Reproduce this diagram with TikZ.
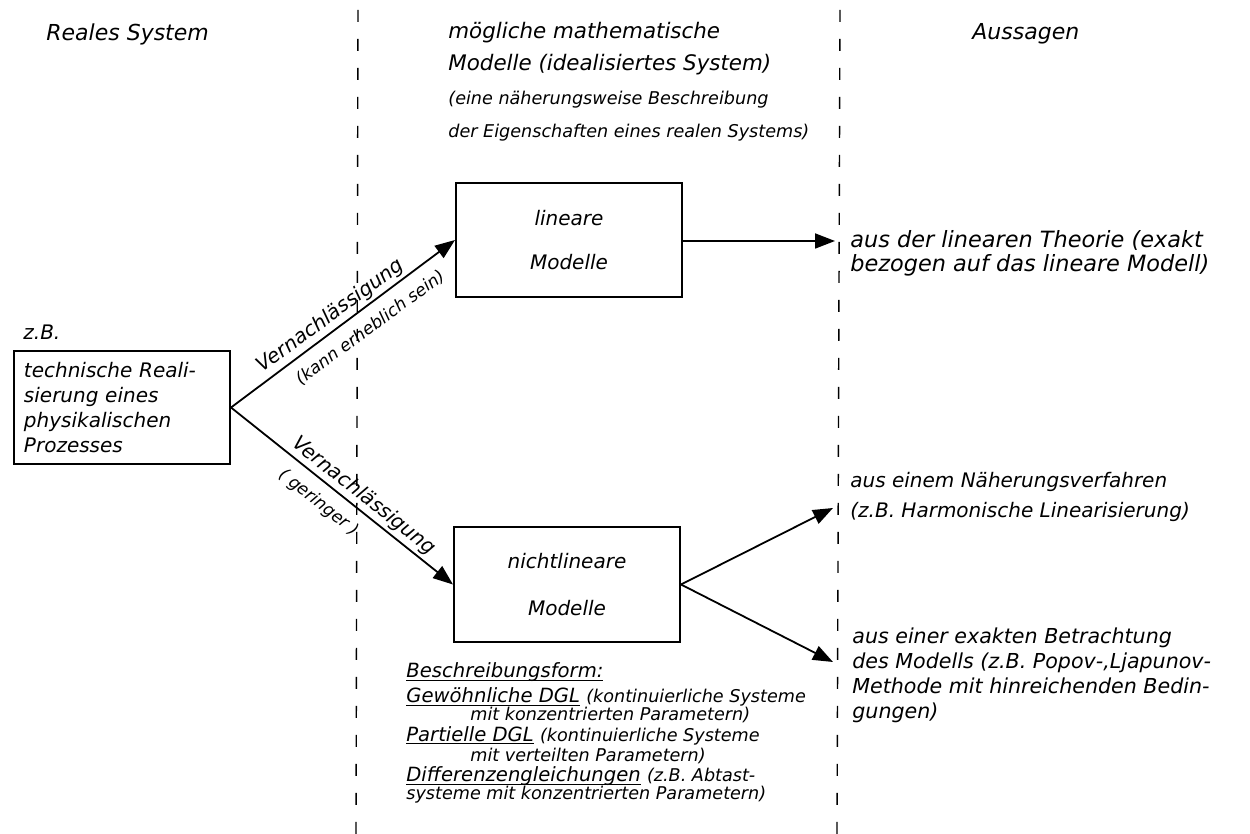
\documentclass[tikz,border=0pt]{standalone}
\usepackage{fontspec}
\setmainfont{DejaVu Sans}
\usetikzlibrary{arrows.meta}

\newcommand{\smallf}{\fontsize{8.8}{10}\selectfont}
\newcommand{\ulword}[1]{\setbox0\hbox{#1}\rlap{\rule[-1.6pt]{\wd0}{0.5pt}}\copy0\relax}

\begin{document}
\begin{tikzpicture}[x=0.5pt,y=0.5pt,yscale=-1,xscale=1,
  box/.style={draw, line width=1pt, rectangle, inner sep=0pt},
  arr/.style={line width=0.9pt, -{Triangle[length=10pt,width=7.5pt]}},
  divider/.style={line width=0.7pt, dash pattern=on 6pt off 8.5pt},
  head/.style={font=\fontsize{11}{13}\selectfont\itshape, inner sep=0pt, anchor=west},
  txt/.style={font=\fontsize{10}{12.5}\selectfont\itshape, inner sep=0pt, align=left, anchor=west},
  smalltxt/.style={font=\smallf\itshape, inner sep=0pt, anchor=west},
  formline/.style={font=\fontsize{9.8}{11}\selectfont\itshape, inner sep=0pt, anchor=base west},
  lbl/.style={font=\fontsize{10}{12}\selectfont\itshape, inner sep=1.5pt},
  lblsmall/.style={font=\fontsize{8.5}{10}\selectfont\itshape, inner sep=5.5pt}]
\useasboundingbox (0,0) rectangle (1250,834);

%Straight Lines (column borders)
\coordinate (divAtop) at (358,10);
\coordinate (divAbot) at (356,834);
\coordinate (divBtop) at (840,10);
\coordinate (divBbot) at (837,834);
\draw[divider] (divAtop) -- (divAbot);
\draw[divider] (divBtop) -- (divBbot);

% Text Node
\node[head] (hreal) at (46,34) {Reales System};
% Text Node
\node[head, font=\fontsize{10.7}{13}\selectfont\itshape] (hmod1) at (448,33) {mögliche mathematische};
\node[head, font=\fontsize{10.7}{13}\selectfont\itshape] (hmod2) at (448,65) {Modelle (idealisiertes System)};
\node[smalltxt] (hmod3) at (448,100) {(eine näherungsweise Beschreibung};
\node[smalltxt] (hmod4) at (448,133) {der Eigenschaften eines realen Systems)};
% Text Node
\node[head] (hout) at (972,34) {Aussagen};

%Shape: Rectangle
\node[head, font=\fontsize{10}{12}\selectfont\itshape] (zb) at (23,332) {z.B.};
\node[box, txt, text width=98pt, inner xsep=5pt, minimum height=56.5pt, anchor=north west]
  (real) at (13,350) {technische Reali-\\sierung eines\\physikalischen\\Prozesses};

%Shape: Rectangle
\node[box, font=\fontsize{10}{13}\selectfont\itshape, align=center, minimum width=113pt, minimum height=57pt]
  (lin) at (569,240) {lineare\\[9pt]Modelle};
%Shape: Rectangle
\node[box, font=\fontsize{10}{13}\selectfont\itshape, align=center, minimum width=113pt, minimum height=57.5pt]
  (nonlin) at (567,584.5) {nichtlineare\\[10.5pt]Modelle};

%Straight Lines
\draw[arr] (real.east) -- (lin.west)
  node[lbl, rotate=36.3, anchor=south, pos=0.48] (neg1) {Vernachlässigung}
  node[lblsmall, rotate=36.3, anchor=north, pos=0.57] (neg1b) {(kann erheblich sein)};
\draw[arr] (real.east) -- (nonlin.west)
  node[lbl, rotate=-38.3, anchor=south, pos=0.56] (neg2) {Vernachlässigung}
  node[lblsmall, rotate=-38.3, anchor=north, pos=0.45] (neg2b) {( geringer )};

% Text Node
\node[txt, font=\fontsize{11.2}{11.8}\selectfont\itshape] (linres) at (850,253.5)
  {aus der linearen Theorie (exakt\\bezogen auf das lineare Modell)};
\node[txt, font=\fontsize{10}{15}\selectfont\itshape] (approx) at (850,497)
  {aus einem Näherungsverfahren\\(z.B. Harmonische Linearisierung)};
\node[txt, font=\fontsize{10.3}{12.5}\selectfont\itshape] (exact) at (852,675)
  {aus einer exakten Betrachtung\\des Modells (z.B. Popov-,Ljapunov-\\Methode mit hinreichenden Bedin-\\gungen)};

%Straight Lines
\coordinate (linend) at (835,241);
\coordinate (approxend) at (833,508);
\coordinate (exactend) at (833,662);
\draw[arr] (lin.east |- linend) -- (linend);
\draw[arr] (nonlin.east) -- (approxend);
\draw[arr] (nonlin.east) -- (exactend);

% Text Node
\node[formline] (form0) at (406,678) {\ulword{Beschreibungsform:}};
\node[formline] (form1) at (406,703) {\ulword{Gewöhnliche DGL} {\smallf(kontinuierliche Systeme}};
\node[formline] (form2) at (470,720) {\smallf mit konzentrierten Parametern)};
\node[formline] (form3) at (406,741) {\ulword{Partielle DGL} {\smallf(kontinuierliche Systeme}};
\node[formline] (form4) at (470,762) {\smallf mit verteilten Parametern)};
\node[formline] (form5) at (406,782) {\ulword{Differenzengleichungen} {\smallf(z.B. Abtast-}};
\node[formline] (form6) at (406,799) {\smallf systeme mit konzentrierten Parametern)};
\end{tikzpicture}
\end{document}
